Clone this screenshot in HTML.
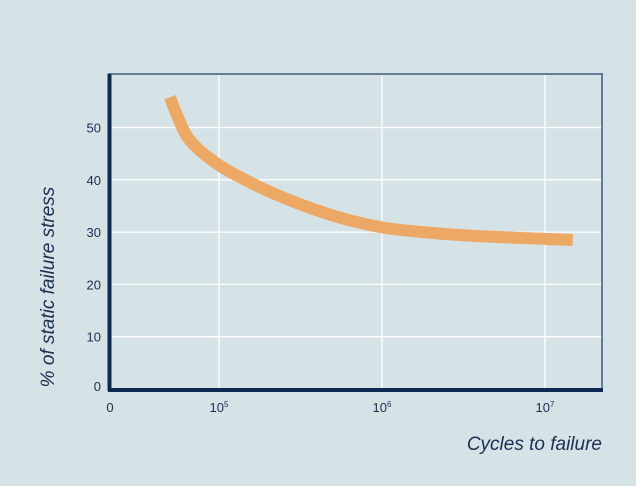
<!DOCTYPE html>
<html><head><meta charset="utf-8"><style>
body{margin:0;background:#d5e2e6;}
svg{display:block;font-family:"Liberation Sans",Arial,sans-serif;}
</style></head><body>
<svg id="chart" width="636" height="486">
<rect width="636" height="486" fill="#d5e2e6"/>
<g id="grid"></g>
<g id="axes"></g>
<g id="series"></g>
<text x="0" y="0" transform="translate(54,287) rotate(-90)" text-anchor="middle" font-size="19" font-style="italic" fill="#1a2f52">% of static failure stress</text>
<text x="602" y="450" text-anchor="end" font-size="19" font-style="italic" fill="#1a2f52">Cycles to failure</text>
</svg>
<script>
const yTicks=[0,10,20,30,40,50];
const xTickExps=[5,6,7];
const curveLogN=[4.70,4.73,4.82,5.0,5.25,5.5,5.75,6.0,6.25,6.5,6.75,7.0,7.17];
const curveStress=[55.8,53.3,47.6,42.8,38.6,35.3,32.7,30.9,30.0,29.4,29.0,28.7,28.5];
const NS='http://www.w3.org/2000/svg';
const L=108,R=602,T=74,B=389;
const yS=v=>B-v*5.23;
const xS=e=>219+163*(e-5);
function mk(tag,attrs,parent){const el=document.createElementNS(NS,tag);for(const k in attrs)el.setAttribute(k,attrs[k]);parent.appendChild(el);return el;}
const grid=document.getElementById('grid'),axes=document.getElementById('axes'),series=document.getElementById('series');
yTicks.forEach(v=>{
 if(v>0){const g=mk('line',{x1:L,x2:R,y1:yS(v),y2:yS(v),stroke:'#ffffff','stroke-width':1.3},grid);
 
 }
 const t=mk('text',{x:101,y:yS(v)+(v===0?2:5),'text-anchor':'end','font-size':13,fill:'#1a2f52'},axes);
 t.textContent=v;
 
 
});
xTickExps.forEach(e=>{
 const g=mk('line',{x1:xS(e),x2:xS(e),y1:T,y2:B,stroke:'#ffffff','stroke-width':1.3},grid);
 
 
 const t=mk('text',{x:xS(e),y:412,'text-anchor':'middle','font-size':13,fill:'#1a2f52'},axes);
 t.innerHTML='10<tspan font-size="8" dy="-5">'+e+'</tspan>';
 
 
});
const z=mk('text',{x:110,y:412,'text-anchor':'middle','font-size':13,fill:'#1a2f52'},axes);
z.textContent='0';


const topBorder=mk('line',{x1:L,x2:R+1,y1:T,y2:T,stroke:'#3d5a80','stroke-width':1.5},axes);


const rt=mk('line',{x1:R,x2:R,y1:T,y2:B,stroke:'#3d5a80','stroke-width':1.5},axes);


const ya=mk('line',{x1:L+1.5,x2:L+1.5,y1:T,y2:B+2,stroke:'#0e2a52','stroke-width':4},axes);


const xa=mk('line',{x1:L,x2:R+1,y1:B+1,y2:B+1,stroke:'#0e2a52','stroke-width':4},axes);


const pts=curveLogN.map((e,i)=>[xS(e),yS(curveStress[i])]);
let d='M'+pts[0][0]+','+pts[0][1];
for(let i=0;i<pts.length-1;i++){
 const p0=pts[Math.max(0,i-1)],p1=pts[i],p2=pts[i+1],p3=pts[Math.min(pts.length-1,i+2)];
 const c1=[p1[0]+(p2[0]-p0[0])/6,p1[1]+(p2[1]-p0[1])/6],c2=[p2[0]-(p3[0]-p1[0])/6,p2[1]-(p3[1]-p1[1])/6];
 d+=' C'+c1+' '+c2+' '+p2;
}
const path=mk('path',{d:d,fill:'none',stroke:'#eea865','stroke-width':12,'stroke-linecap':'butt'},series);


</script>
</body></html>
